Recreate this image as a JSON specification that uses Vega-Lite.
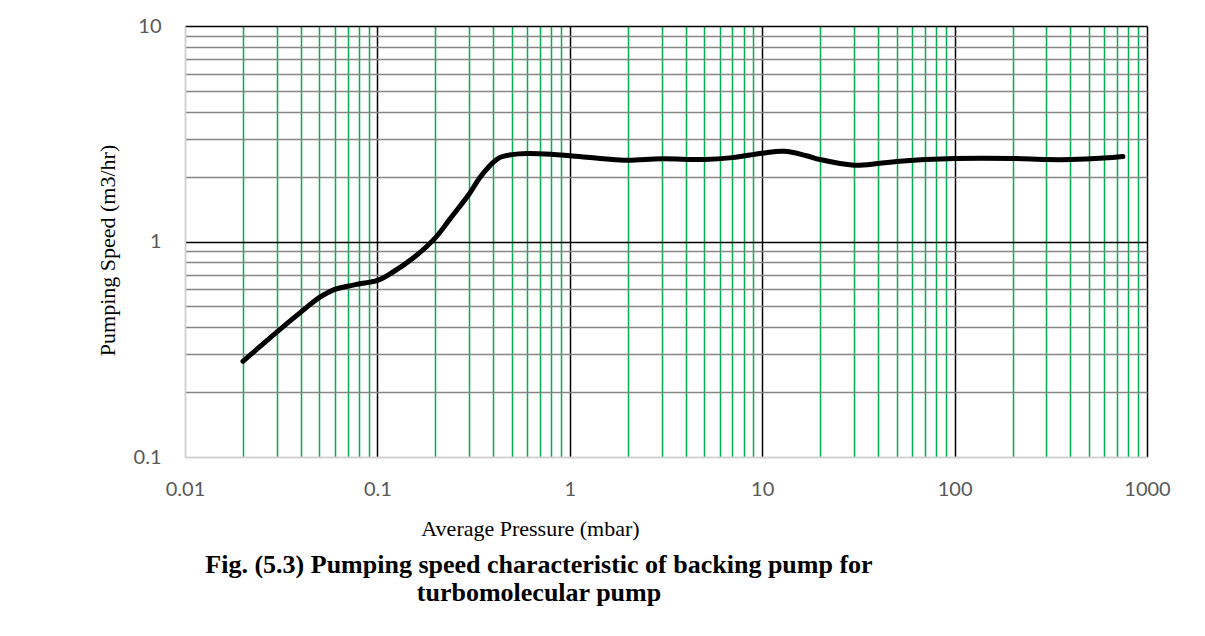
{
  "$schema": "https://vega.github.io/schema/vega-lite/v6.json",
  "width": 962,
  "height": 431,
  "autosize": {"type": "none"},
  "padding": {"left": 185, "top": 26, "right": 58, "bottom": 179},
  "background": "white",
  "config": {"view": {"stroke": null}},
  "title": {
    "text": ["Fig. (5.3) Pumping speed characteristic of backing pump for", "turbomolecular pump"],
    "orient": "bottom",
    "anchor": "middle",
    "frame": "group",
    "dx": -127,
    "offset": 13,
    "font": "Liberation Serif",
    "fontSize": 26,
    "fontWeight": "bold",
    "color": "#000000",
    "lineHeight": 28
  },
  "data": {
    "values": [
      {"pressure": 0.02, "speed": 0.278},
      {"pressure": 0.03, "speed": 0.38},
      {"pressure": 0.04, "speed": 0.47},
      {"pressure": 0.05, "speed": 0.55},
      {"pressure": 0.06, "speed": 0.6},
      {"pressure": 0.07, "speed": 0.62},
      {"pressure": 0.08, "speed": 0.635},
      {"pressure": 0.1, "speed": 0.66},
      {"pressure": 0.12, "speed": 0.72},
      {"pressure": 0.154, "speed": 0.84},
      {"pressure": 0.2, "speed": 1.04},
      {"pressure": 0.238, "speed": 1.27},
      {"pressure": 0.3, "speed": 1.66},
      {"pressure": 0.341, "speed": 1.98},
      {"pressure": 0.4, "speed": 2.33},
      {"pressure": 0.435, "speed": 2.46},
      {"pressure": 0.5, "speed": 2.53},
      {"pressure": 0.6, "speed": 2.56},
      {"pressure": 0.8, "speed": 2.54},
      {"pressure": 1, "speed": 2.5},
      {"pressure": 1.5, "speed": 2.42},
      {"pressure": 2, "speed": 2.38},
      {"pressure": 3, "speed": 2.42},
      {"pressure": 5, "speed": 2.4},
      {"pressure": 7, "speed": 2.45},
      {"pressure": 10, "speed": 2.57},
      {"pressure": 13, "speed": 2.62},
      {"pressure": 17, "speed": 2.5},
      {"pressure": 20, "speed": 2.4},
      {"pressure": 30, "speed": 2.26},
      {"pressure": 40, "speed": 2.3},
      {"pressure": 50, "speed": 2.35},
      {"pressure": 70, "speed": 2.4},
      {"pressure": 100, "speed": 2.43},
      {"pressure": 200, "speed": 2.43},
      {"pressure": 300, "speed": 2.4},
      {"pressure": 400, "speed": 2.4},
      {"pressure": 600, "speed": 2.44},
      {"pressure": 750, "speed": 2.48}
    ]
  },
  "mark": {"type": "line", "color": "#000000", "strokeWidth": 5, "strokeCap": "round", "interpolate": "catmull-rom"},
  "encoding": {
    "x": {
      "field": "pressure",
      "type": "quantitative",
      "scale": {"type": "log", "domain": [0.01, 1000], "nice": false},
      "axis": {
        "title": "Average Pressure (mbar)",
        "titleFont": "Liberation Serif",
        "titleFontSize": 22,
        "titleFontWeight": "normal",
        "titleColor": "#000000",
        "titleX": 345,
        "titleY": 78,
        "titleBaseline": "alphabetic",
        "titleAlign": "center",
        "values": [0.01, 0.02, 0.03, 0.04, 0.05, 0.06, 0.07, 0.08, 0.09, 0.1, 0.2, 0.3, 0.4, 0.5, 0.6, 0.7, 0.8, 0.9, 1, 2, 3, 4, 5, 6, 7, 8, 9, 10, 20, 30, 40, 50, 60, 70, 80, 90, 100, 200, 300, 400, 500, 600, 700, 800, 900, 1000],
        "labelExpr": "abs(log(datum.value)/LN10 - round(log(datum.value)/LN10)) < 0.001 ? format(datum.value, '~g') : ''",
        "labelFont": "Lato",
        "labelFontSize": 20,
        "labelColor": "#595959",
        "labelPadding": 22,
        "labelFlush": false,
        "labelOverlap": false,
        "labelBound": false,
        "ticks": false,
        "tickSize": 0,
        "domain": true,
        "domainColor": "#d0d0d0",
        "domainWidth": 1.5,
        "grid": true,
        "gridWidth": 1.5,
        "gridOpacity": 1,
        "gridColor": {
          "condition": [
            {"test": "datum.value < 0.0105", "value": "#d0d0d0"},
            {"test": "abs(log(datum.value)/LN10 - round(log(datum.value)/LN10)) < 0.001", "value": "#000000"}
          ],
          "value": "#00b050"
        }
      }
    },
    "y": {
      "field": "speed",
      "type": "quantitative",
      "scale": {"type": "log", "domain": [0.1, 10], "nice": false},
      "axis": {
        "title": "Pumping Speed (m3/hr)",
        "titleFont": "Liberation Serif",
        "titleFontSize": 22,
        "titleFontWeight": "normal",
        "titleColor": "#000000",
        "titleAngle": -90,
        "titleX": -78,
        "titleY": 224,
        "titleAlign": "center",
        "titleBaseline": "middle",
        "values": [0.1, 0.2, 0.3, 0.4, 0.5, 0.6, 0.7, 0.8, 0.9, 1, 2, 3, 4, 5, 6, 7, 8, 9, 10],
        "labelExpr": "abs(log(datum.value)/LN10 - round(log(datum.value)/LN10)) < 0.001 ? format(datum.value, '~g') : ''",
        "labelFont": "Lato",
        "labelFontSize": 20,
        "labelColor": "#595959",
        "labelPadding": 24,
        "labelOverlap": false,
        "labelBound": false,
        "labelFlush": false,
        "ticks": false,
        "tickSize": 0,
        "domain": true,
        "domainColor": "#d0d0d0",
        "domainWidth": 1.5,
        "grid": true,
        "gridWidth": 1.5,
        "gridOpacity": 1,
        "gridColor": {
          "condition": [
            {"test": "datum.value < 0.105", "value": "#d0d0d0"},
            {"test": "abs(log(datum.value)/LN10 - round(log(datum.value)/LN10)) < 0.001", "value": "#000000"}
          ],
          "value": "#868686"
        }
      }
    }
  }
}
